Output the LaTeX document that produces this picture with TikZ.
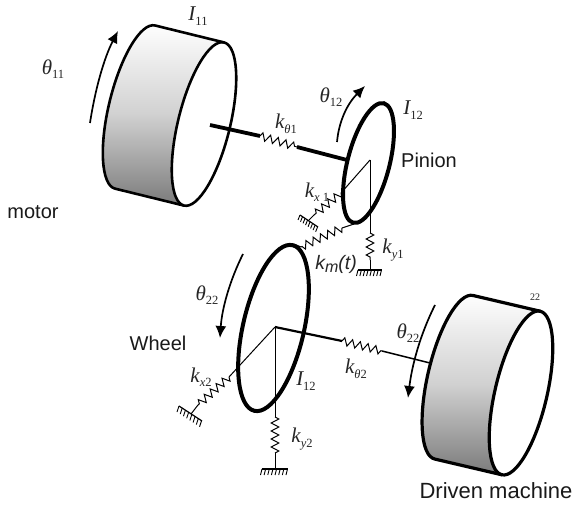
\documentclass[tikz,border=0pt]{standalone}
\usepackage{fontspec}
\setmainfont{Liberation Serif}
\setsansfont{Liberation Sans}
\usetikzlibrary{decorations.pathmorphing,arrows.meta,calc}
\newcommand{\sym}[2]{{\fontsize{21}{21}\selectfont\itshape #1}\raisebox{-4.5pt}{\fontsize{12.5}{12.5}\selectfont #2}}
\newcommand{\cyl}[4]{% centre, angle, line width, offset
\begin{scope}[shift={#1},rotate=#2]
\path[shade,top color=white,bottom color=black!52,middle color=black!18]
 (84pt,#4pt) arc[start angle=0,end angle=180,x radius=84pt,y radius=26pt]
 -- (-84pt,0pt) arc[start angle=180,end angle=0,x radius=84pt,y radius=26pt] -- cycle;
\draw[line width=#3,line join=round]
 (84pt,0pt) -- (84pt,#4pt) arc[start angle=0,end angle=180,x radius=84pt,y radius=26pt] -- (-84pt,0pt);
\draw[line width=#3] (0pt,0pt) ellipse[x radius=84pt,y radius=26pt];
\end{scope}}
\newcommand{\gnd}[4]{% end a, end b, tick dx, dy
\draw[gndline] #1 -- #2;
\foreach \t in {0,0.14,...,1.01}{\draw[gndtick] ($#1!\t!#2$) -- ++(#3,#4);}}
\tikzset{
 spring/.style={line width=1pt,decorate,decoration={zigzag,segment length=8pt,amplitude=3.8pt}},
 wire/.style={line width=1pt},
 thickshaft/.style={line width=3.8pt},
 midshaft/.style={line width=2.2pt},
 disc/.style={line width=4pt},
 turn/.style={line width=1.7pt,-{Latex[length=12pt,width=11pt]}},
 gndline/.style={line width=1.2pt},
 gndtick/.style={line width=.9pt},
 lab/.style={inner sep=0pt,text=black!85},
 sans/.style={inner sep=0pt,font=\sffamily\fontsize{20}{20}\selectfont,text=black!90},
}
\begin{document}
\begin{tikzpicture}[x=1pt,y=-1pt]
\useasboundingbox[fill=white] (0,0) rectangle (581,505);
\coordinate (a1) at (210,125);
\coordinate (a2) at (260,136);
\coordinate (a3) at (297,147);
\coordinate (a4) at (347,160);
\coordinate (pc) at (370,160);
\coordinate (pe) at (341,193);
\coordinate (ps) at (314,215);
\coordinate (pg) at (308,221);
\coordinate (yt) at (370,233);
\coordinate (yb) at (370,260);
\coordinate (yg) at (370,270);
\coordinate (m1) at (354,224);
\coordinate (m2) at (342,228);
\coordinate (m3) at (301,247);
\coordinate (m4) at (294,244);
\coordinate (wc) at (275,327);
\coordinate (b1) at (342,341);
\coordinate (b2) at (382,351);
\coordinate (b3) at (430,363);
\coordinate (we) at (229,377);
\coordinate (ws) at (198,405);
\coordinate (wg) at (191,414);
\coordinate (vt) at (275,417);
\coordinate (vb) at (275,453);
\coordinate (vg) at (275,469);
% motor and driven machine
\cyl{(204,124)}{76.2}{2.6pt}{71}
\cyl{(521,393)}{76.8}{3.2pt}{69}
% shafts and springs
\draw[thickshaft] (a1) -- (a2);
\draw[spring] (a2) -- (a3);
\draw[thickshaft] (a3) -- (a4);
\draw[wire] (pc) -- (yt);
\draw[wire] (pc) -- (pe);
\draw[spring] (pe) -- (ps);
\draw[wire] (ps) -- (pg);
\gnd{(300,215)}{(318,227)}{-2}{5}
\draw[spring] (yt) -- (yb);
\draw[wire] (yb) -- (yg);
\gnd{(358,270)}{(382,270)}{-1.5}{6}
\draw[wire] (m1) -- (m2);
\draw[spring] (m2) -- (m3);
\draw[wire] (m3) -- (m4);
\draw[midshaft] (wc) -- (b1);
\draw[spring] (b1) -- (b2);
\draw[midshaft,line width=1.5pt] (b2) -- (b3);
\draw[wire] (wc) -- (vt);
\draw[spring] (vt) -- (vb);
\draw[wire] (vb) -- (vg);
\gnd{(262,469)}{(288,469)}{-1.5}{6}
\draw[wire] (wc) -- (we);
\draw[spring] (we) -- (ws);
\draw[wire] (ws) -- (wg);
\gnd{(179,406)}{(202,421)}{-2}{6}
% discs
\draw[disc,rotate around={75.6:(368.5,163)}] (368.5,163) ellipse[x radius=61.7pt,y radius=21pt];
\draw[disc,rotate around={77:(273.5,328)}] (273.5,328) ellipse[x radius=85pt,y radius=30.5pt];
% rotation arrows
\coordinate (r1s) at (90,123);
\coordinate (r1e) at (118,31);
\coordinate (r2s) at (337,142);
\coordinate (r2e) at (365,86);
\coordinate (r3s) at (243,254);
\coordinate (r3e) at (220,338);
\coordinate (r4s) at (435,305);
\coordinate (r4e) at (408,398);
\draw[turn] (r1s) .. controls (95,90) and (104,58) .. (r1e);
\draw[turn] (r2s) .. controls (339,120) and (348,103) .. (r2e);
\draw[turn] (r3s) .. controls (230,280) and (222,308) .. (r3e);
\draw[turn] (r4s) .. controls (420,335) and (412,365) .. (r4e);
% labels
\node[lab] (i11) at (198,16) {\sym{I}{11}};
\node[lab] (t11) at (53,69) {\sym{θ}{11}};
\node[lab] (kt1) at (286,124) {\sym{k}{\textit{θ}1}};
\node[lab] (t12) at (331,97) {\sym{θ}{12}};
\node[lab] (i12) at (413,110) {\sym{I}{12}};
\node[sans] (pin) at (429,160) {Pinion};
\node[lab] (kx1) at (317,192) {\sym{k}{\textit{x} 1}};
\node[lab] (ky1) at (393,250) {\sym{k}{\textit{y}1}};
\node[inner sep=0pt,font=\sffamily\itshape\fontsize{19.5}{19.5}\selectfont,text=black!85] (km) at (336,264) {k\raisebox{-3pt}{\fontsize{16}{16}\selectfont m}(t)};
\node[sans] (mot) at (33,212) {motor};
\node[sans] (whl) at (158,343) {Wheel};
\node[lab] (t22) at (207,295) {\sym{θ}{22}};
\node[lab] (i22) at (306,381) {\sym{I}{12}};
\node[lab] (kt2) at (356,369) {\sym{k}{\textit{θ}2}};
\node[lab] (kx2) at (201,377) {\sym{k}{\textit{x}2}};
\node[lab] (ky2) at (302,439) {\sym{k}{\textit{y}2}};
\node[lab,font=\fontsize{10}{10}\selectfont] (n22) at (535,297) {22};
\node[lab] (t22b) at (408,333) {\sym{θ}{22}};
\node[sans,font=\sffamily\fontsize{22}{22}\selectfont] (drv) at (496,491) {Driven machine};
\end{tikzpicture}
\end{document}
